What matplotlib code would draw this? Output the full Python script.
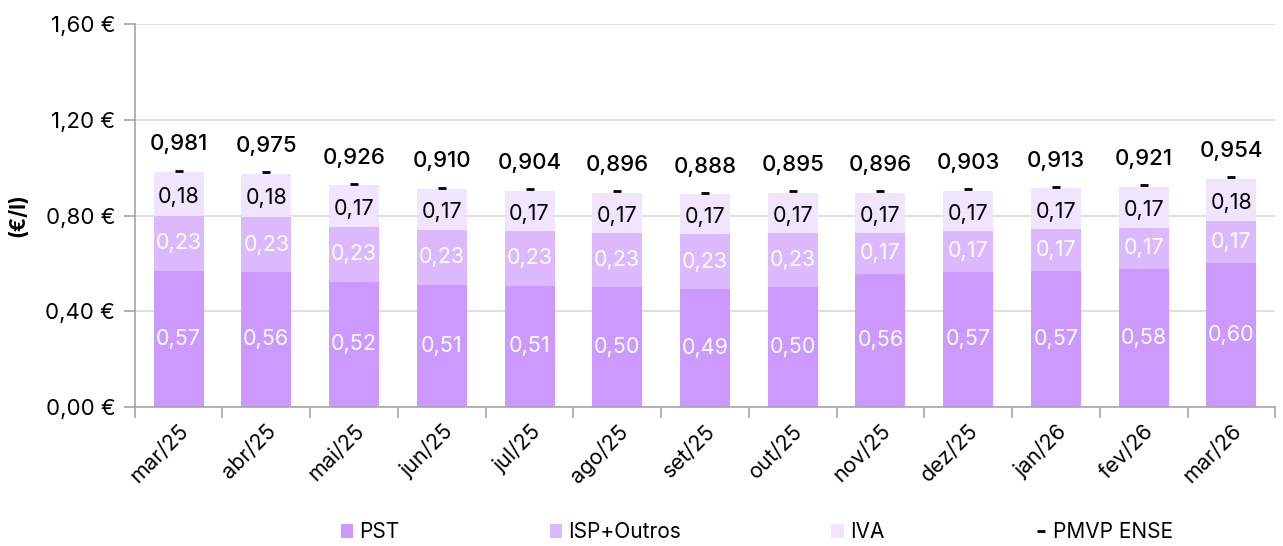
import matplotlib.pyplot as plt
import numpy as np
from matplotlib.lines import Line2D
from matplotlib.patches import Patch

plt.rcParams['font.family'] = ['Inter', 'DejaVu Sans']

# data
meses = ["mar/25", "abr/25", "mai/25", "jun/25", "jul/25", "ago/25", "set/25",
         "out/25", "nov/25", "dez/25", "jan/26", "fev/26", "mar/26"]
pst = [0.570, 0.564, 0.524, 0.511, 0.507, 0.500, 0.493, 0.500, 0.556, 0.566, 0.570, 0.578, 0.602]
isp = [0.228, 0.229, 0.229, 0.229, 0.228, 0.228, 0.229, 0.228, 0.172, 0.168, 0.172, 0.171, 0.174]
iva = [0.183, 0.182, 0.173, 0.170, 0.169, 0.168, 0.166, 0.167, 0.168, 0.169, 0.171, 0.172, 0.178]
pmvp = [0.981, 0.975, 0.926, 0.910, 0.904, 0.896, 0.888, 0.895, 0.896, 0.903, 0.913, 0.921, 0.954]

c_pst = "#cc99ff"
c_isp = "#dcb8ff"
c_iva = "#f1e4ff"

def fmt(v, d=2):
    return f"{v:.{d}f}".replace(".", ",")

fig = plt.figure(figsize=(12.83, 5.46), dpi=100)
ax = fig.add_axes([0.105, 0.2546, 0.889, 0.7014])

x = np.arange(len(meses))
w = 0.57
pst_a = np.array(pst)
isp_a = np.array(isp)
iva_a = np.array(iva)

ax.bar(x, pst_a, w, color=c_pst, zorder=2)
ax.bar(x, isp_a, w, bottom=pst_a, color=c_isp, zorder=2)
ax.bar(x, iva_a, w, bottom=pst_a + isp_a, color=c_iva, zorder=2)

# labels inside the bars
for i in range(len(meses)):
    ax.text(x[i], pst_a[i] / 2, fmt(pst[i]), ha="center", va="center",
            color="white", fontsize=15.5, zorder=3)
    ax.text(x[i], pst_a[i] + isp_a[i] / 2, fmt(isp[i]), ha="center", va="center",
            color="white", fontsize=15.5, zorder=3)
    ax.text(x[i], pst_a[i] + isp_a[i] + iva_a[i] / 2 - 0.012, fmt(iva[i]), ha="center",
            va="center", color="black", fontsize=15.5, zorder=3)

# PMVP markers and labels
ax.plot(x, np.array(pmvp) + 0.006, linestyle="none", marker="_", markersize=6,
        markeredgewidth=2, color="black", zorder=4)
for i in range(len(meses)):
    ax.annotate(fmt(pmvp[i], 3), (x[i], pmvp[i]), xytext=(0, 20),
                textcoords="offset points", ha="center", va="center",
                fontsize=16, fontweight="medium", color="black")

# axes
ax.set_xlim(-0.5, len(meses) - 0.5)
ax.set_ylim(0, 1.6)
ax.set_yticks([0, 0.4, 0.8, 1.2, 1.6])
ax.set_yticklabels([fmt(v) + " €" for v in [0, 0.4, 0.8, 1.2, 1.6]], fontsize=16)
ax.set_xticks(x)
ax.set_xticklabels(meses, rotation=45, ha="right", rotation_mode="anchor", fontsize=15.5)
ax.tick_params(axis="x", length=0, pad=10)
ax.set_xticks(np.arange(len(meses) + 1) - 0.5, minor=True)
ax.tick_params(axis="x", which="minor", length=8, color="#a6a6a6", width=1.2)
ax.tick_params(axis="y", length=8, color="#a6a6a6", width=1.2, pad=6)
ax.grid(axis="y", color="#d9d9d9", linewidth=1.2, zorder=0)
ax.set_axisbelow(True)
for s in ["top", "right"]:
    ax.spines[s].set_visible(False)
for s in ["left", "bottom"]:
    ax.spines[s].set_color("#a6a6a6")
    ax.spines[s].set_linewidth(1.2)

ax.set_ylabel("(€/l)", fontsize=15, fontweight="bold", labelpad=12)

# legend
handles = [
    Patch(facecolor=c_pst, label="PST"),
    Patch(facecolor=c_isp, label="ISP+Outros"),
    Patch(facecolor=c_iva, label="IVA"),
    Line2D([], [], linestyle="none", marker="_", markersize=6, markeredgewidth=2,
           color="black", label="PMVP ENSE"),
]
fig.legend(handles=handles, loc="center", bbox_to_anchor=(0.59, 0.025), ncol=4,
           frameon=False, fontsize=15, handlelength=0.6, handleheight=0.6,
           handletextpad=0.3, columnspacing=7.2)

fig.savefig("out.png", dpi=100)
